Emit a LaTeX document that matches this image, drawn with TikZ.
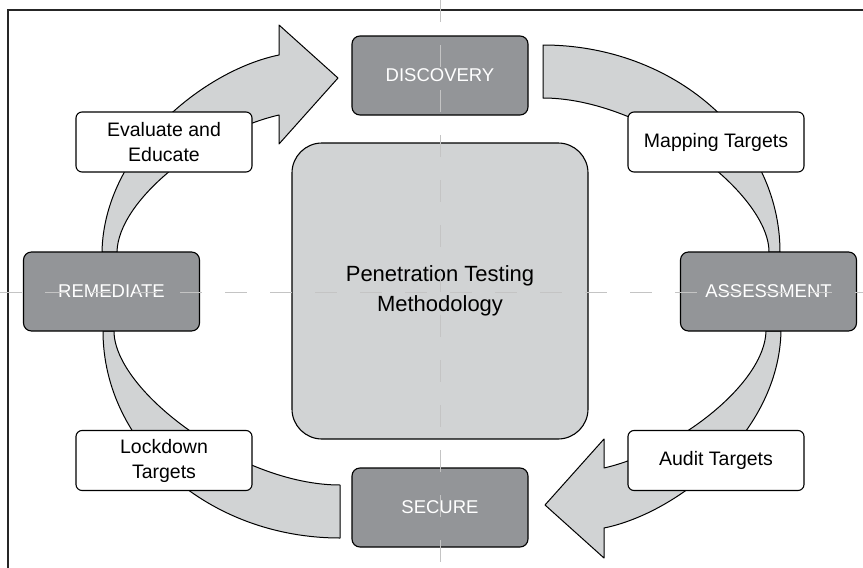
\documentclass[tikz,border=0pt]{standalone}
\usepackage{fontspec}
\setmainfont{Liberation Sans}
\usepackage{tikz}
\definecolor{phasegray}{HTML}{939598}
\definecolor{coregray}{HTML}{D1D3D4}
\definecolor{guidegray}{HTML}{C4C4C4}
\tikzset{
    phasebox/.style={draw=black, fill=phasegray, line width=1.1pt, rounded corners=8pt,
        minimum width=176pt, minimum height=79pt, text=white,
        font=\fontsize{18.5}{22}\selectfont},
    notebox/.style={draw=black, fill=white, line width=1.1pt, rounded corners=6pt,
        minimum width=176pt, minimum height=60pt, align=center,
        font=\fontsize{19.5}{25}\selectfont},
    corebox/.style={draw=black, fill=coregray, line width=1.1pt, rounded corners=30pt,
        minimum width=296pt, minimum height=296pt, align=center,
        font=\fontsize{22}{30}\selectfont},
    flowarrow/.style={draw=black, fill=coregray, line width=1pt, line join=round},
    guide/.style={draw=guidegray, line width=1pt, dash pattern=on 22pt off 23pt}
}

\begin{document}
\begin{tikzpicture}[x=1pt, y=-1pt]
    \useasboundingbox (0,0) rectangle (863,568);
    \draw[line width=1.2pt, black!85] (8,568) -- (8,10) -- (863,10);
    % the two bent arrows, once as they are and once turned half round
    \foreach \r in {0,180} {
        \begin{scope}[rotate around={\r:(441.5,291.5)}]
            \draw[flowarrow] (102,252) .. controls (104,150) and (205,70) .. (279,55)
                -- (279,25) -- (338,78) -- (279,144) -- (279,115)
                .. controls (205,132) and (118,200) .. (117,252) -- cycle;
            \draw[flowarrow] (543,45) .. controls (674,45) and (780,138) .. (780,252)
                -- (769,252) .. controls (769,192) and (643,98) .. (543,98) -- cycle;
        \end{scope}
    }
    \node[corebox] (core) at (440,291) {Penetration Testing\\Methodology};
    \node[phasebox] (disc) at (440,75.5) {DISCOVERY};
    \node[phasebox] (assess) at (768.5,291.5) {ASSESSMENT};
    \node[phasebox] (secure) at (440,507.5) {SECURE};
    \node[phasebox] (remed) at (111.5,291.5) {REMEDIATE};
    \node[notebox] (evalEdu) at (164,142) {Evaluate and\\Educate};
    \node[notebox] (mapTgt) at (716,142) {Mapping Targets};
    \node[notebox] (lockTgt) at (164,460.5) {Lockdown\\Targets};
    \node[notebox] (auditTgt) at (716,460.5) {Audit Targets};
    % guide lines on top
    \draw[guide] (0,292) -- (863,292);
    \draw[guide] (440,0) -- (440,568);
\end{tikzpicture}
\end{document}
